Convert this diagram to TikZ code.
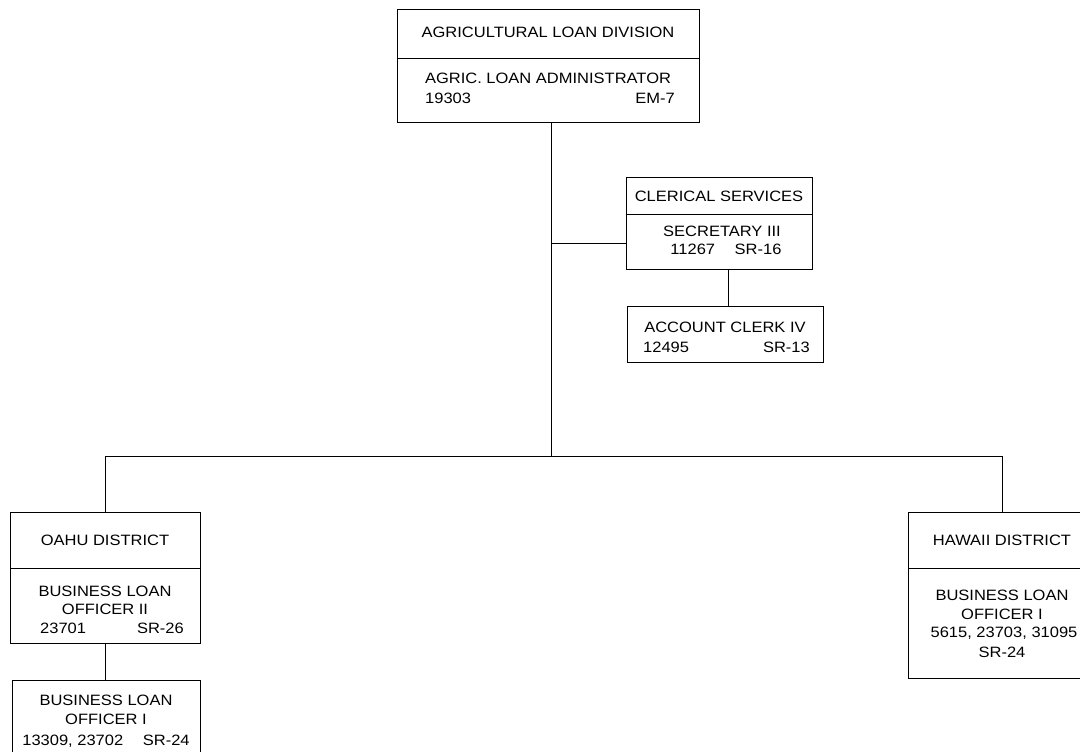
\documentclass[tikz,border=0pt]{standalone}
\usepackage{fontspec}
\setmainfont[FakeStretch=1.1]{Liberation Sans}
\begin{document}
\begin{tikzpicture}[x=1pt,y=-1pt,
  box/.style={draw, line width=0.8pt, rectangle, inner sep=0pt, anchor=north west},
  txt/.style={inner sep=0pt, anchor=base, font=\fontsize{15}{18}\selectfont},
  txtl/.style={txt, anchor=base west},
  txtr/.style={txt, anchor=base east},
  conn/.style={line width=0.8pt}]
\useasboundingbox (0,0) rectangle (1080,752);
\clip (0,0) rectangle (1080,752);
\fill[white] (0,0) rectangle (1080,752);

% top box
\node[box, minimum width=302pt, minimum height=113pt] (top) at (397,9) {};
\draw[conn] (397,58) -- (699,58);
\node[txt] (topT) at (548,38) {AGRICULTURAL LOAN DIVISION};
\node[txt] (topA) at (548,84) {AGRIC. LOAN ADMINISTRATOR};
\node[txtl] (topN) at (425,103) {19303};
\node[txtr] (topG) at (675,103) {EM-7};

% clerical box
\node[box, minimum width=186pt, minimum height=92pt] (cler) at (626,177) {};
\draw[conn] (626,214) -- (812,214);
\node[txt] (clerT) at (719,201) {CLERICAL SERVICES};
\node[txt] (clerA) at (722,236) {SECRETARY III};
\node[txt] (clerN) at (726,254) {11267\quad\ SR-16};

% account clerk box
\node[box, minimum width=196pt, minimum height=56pt] (acct) at (627,306) {};
\node[txt] (acctA) at (725,332) {ACCOUNT CLERK IV};
\node[txtl] (acctN) at (643,352) {12495};
\node[txtr] (acctG) at (810,352) {SR-13};

% oahu box
\node[box, minimum width=190pt, minimum height=131pt] (oahu) at (10,512) {};
\draw[conn] (10,568) -- (200,568);
\node[txt] (oahuT) at (105,545) {OAHU DISTRICT};
\node[txt] (oahuA) at (105,596) {BUSINESS LOAN};
\node[txt] (oahuB) at (105,614) {OFFICER II};
\node[txtl] (oahuN) at (40,633) {23701};
\node[txtr] (oahuG) at (184,633) {SR-26};

% lower left box
\node[box, minimum width=188pt, minimum height=90pt] (bl1) at (12,680) {};
\node[txt] (bl1A) at (106,705) {BUSINESS LOAN};
\node[txt] (bl1B) at (106,724) {OFFICER I};
\node[txt] (bl1N) at (106,745) {13309, 23702\quad\ SR-24};

% hawaii box
\node[box, minimum width=182pt, minimum height=166pt] (hawaii) at (908,512) {};
\draw[conn] (908,568) -- (1090,568);
\node[txt] (hawT) at (1002,545) {HAWAII DISTRICT};
\node[txt] (hawA) at (1002,600) {BUSINESS LOAN};
\node[txt] (hawB) at (1002,619) {OFFICER I};
\node[txt] (hawN) at (1004,637) {5615, 23703, 31095};
\node[txt] (hawG) at (1002,657) {SR-24};

% connectors
\coordinate (hub) at (551,456);
\coordinate (cl) at (551,243);
\coordinate (ca) at (728,269);
\coordinate (hl) at (105,456);
\coordinate (hr) at (1002,456);
\draw[conn] (top.south -| hub) -- (hub);
\draw[conn] (cl) -- (cl -| cler.west);
\draw[conn] (ca) -- (ca |- acct.north);
\draw[conn] (hl) -- (hr);
\draw[conn] (hl) -- (hl |- oahu.north);
\draw[conn] (hr) -- (hr |- hawaii.north);
\draw[conn] (oahu.south) -- (oahu.south |- bl1.north);
\end{tikzpicture}
\end{document}
